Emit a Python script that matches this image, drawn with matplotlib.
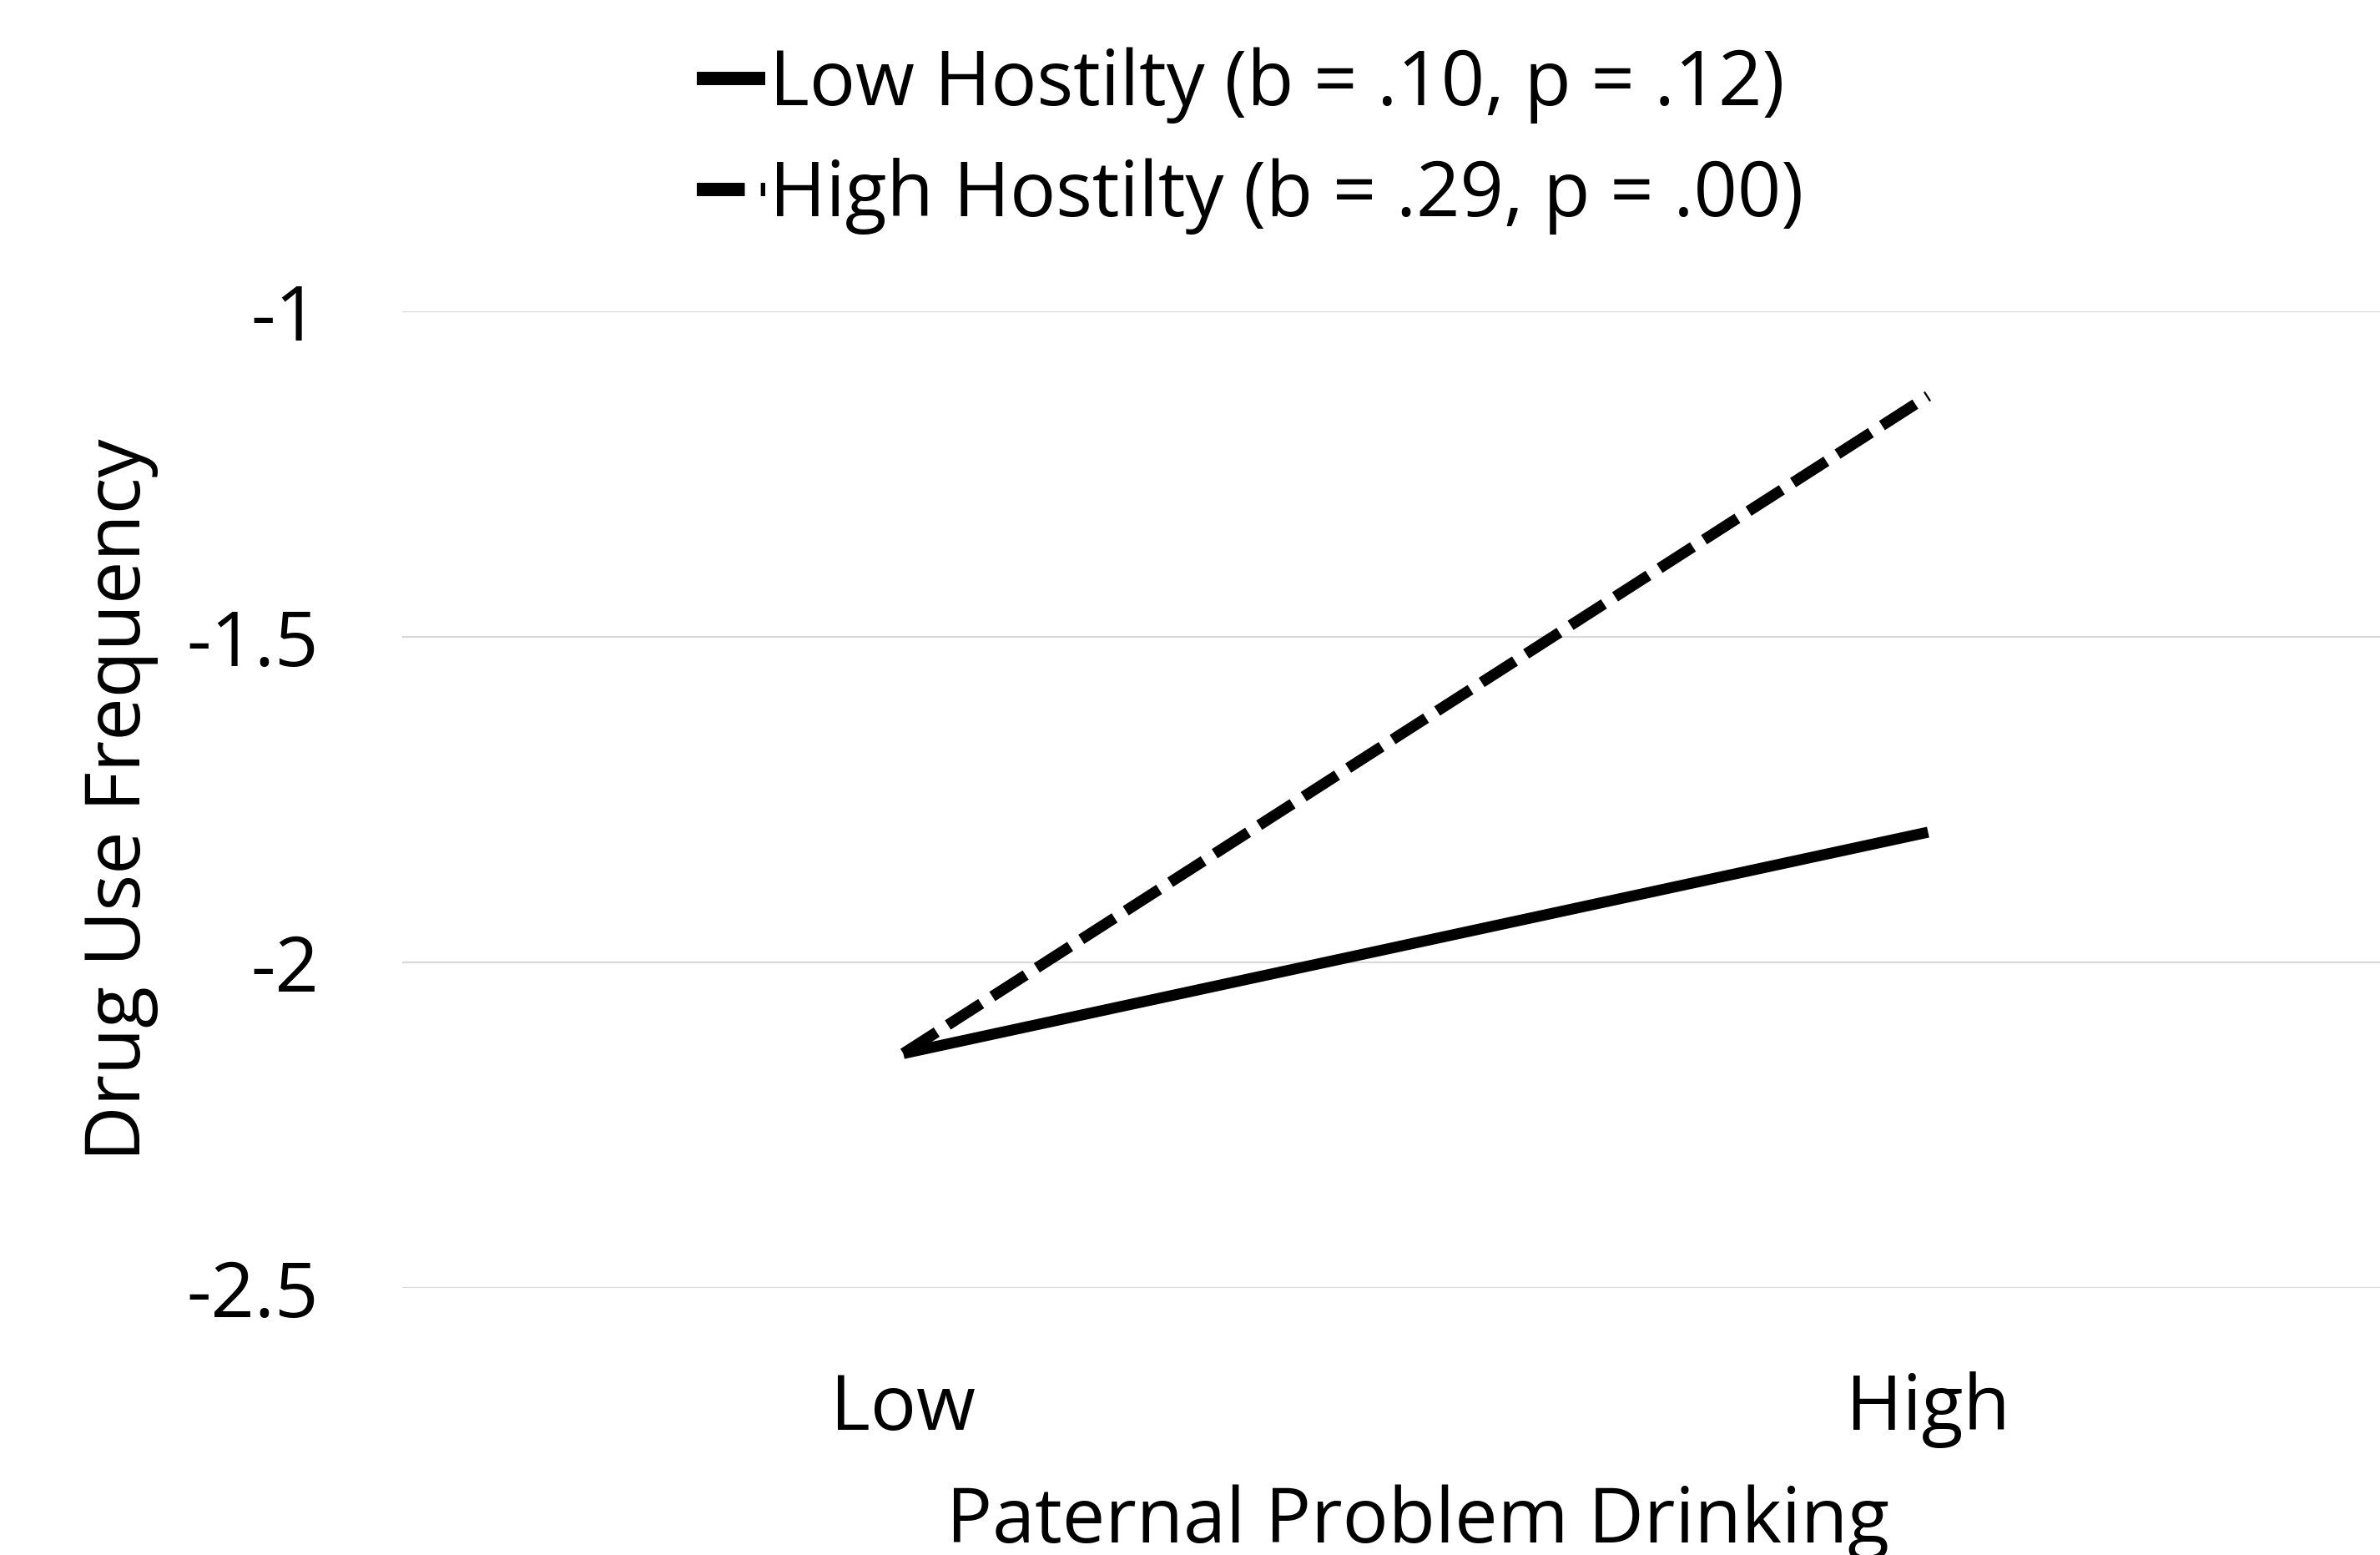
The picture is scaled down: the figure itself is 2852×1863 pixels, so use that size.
import matplotlib
matplotlib.use('Agg')
import matplotlib.pyplot as plt

# Simple slopes data
categories = ['Low', 'High']
low_hostility = [-2.14, -1.80]
high_hostility = [-2.14, -1.13]
series_labels = ['Low Hostilty (b = .10, p = .12)',
                 'High Hostilty (b = .29, p = .00)']
y_ticks = [-2.5, -2, -1.5, -1]
y_tick_labels = ['-2.5', '-2', '-1.5', '-1']

plt.rcParams['font.family'] = ['Open Sans', 'DejaVu Sans']

fig = plt.figure(figsize=(28.52, 18.63), dpi=100)
ax = fig.add_axes([482 / 2852, 1 - 1543 / 1863, 1 - 482 / 2852, (1543 - 373) / 1863])

x = list(range(len(categories)))
ax.plot(x, low_hostility, color='black', lw=9.5, solid_capstyle='butt',
        label=series_labels[0], zorder=3)
ax.plot(x, high_hostility, color='black', lw=9.5, dashes=(3.6, 1.2),
        dash_capstyle='butt', label=series_labels[1], zorder=3)

ax.set_ylim(-2.5, -1)
ax.set_xlim(-0.489, 1.441)
ax.set_yticks(y_ticks)
ax.set_yticklabels(y_tick_labels)
ax.set_xticks(x)
ax.set_xticklabels(categories)
ax.tick_params(axis='both', length=0, labelsize=66)
ax.tick_params(axis='y', pad=72)
ax.tick_params(axis='x', pad=72)
ax.yaxis.grid(True, color='#d9d9d9', lw=1.6)
ax.set_axisbelow(True)
for s in ax.spines.values():
    s.set_visible(False)

ax.set_ylabel('Drug Use Frequency', fontsize=66)
ax.yaxis.set_label_coords(-(482 - 190) / (2852 - 482), 0.5)
fig.text(1699 / 2852, 1 - 1779 / 1863, 'Paternal Problem Drinking',
         fontsize=66, ha='center', va='top')

leg = fig.legend(loc='upper left', bbox_to_anchor=(798 / 2852, 1 - 20 / 1863),
                 frameon=False, fontsize=66, handlelength=0.9, handletextpad=0.05,
                 labelspacing=0.45, borderaxespad=0)
for h in leg.get_lines():
    h.set_linewidth(11.5)

fig.savefig('out.png', dpi=100)
